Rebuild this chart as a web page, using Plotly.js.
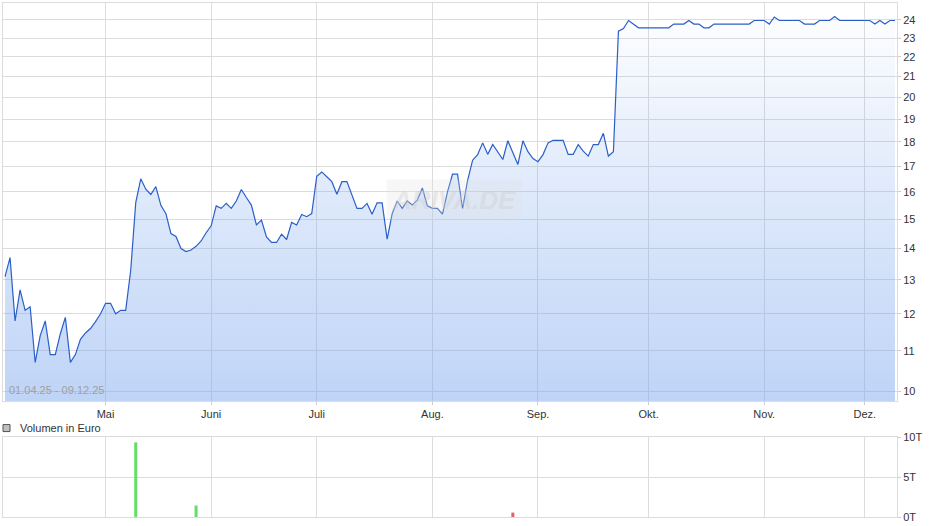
<!DOCTYPE html>
<html>
<head>
<meta charset="utf-8">
<script src="https://cdn.plot.ly/plotly-3.0.1.min.js"></script>
<style>
  html, body { margin: 0; padding: 0; background: #fff; }
  #chart { width: 940px; height: 526px; }
</style>
</head>
<body>
<div id="chart"></div>
<script>
// ---- Data ----
const startDate = '2025-04-01';
const endDate = '2025-12-09';
const holidays = ['2025-04-18', '2025-04-21', '2025-05-01'];
const monthLabels = ['Mai', 'Juni', 'Juli', 'Aug.', 'Sep.', 'Okt.', 'Nov.', 'Dez.'];
const rangeLabel = '01.04.25 - 09.12.25';

const prices = [
  13.1, 13.7, 11.8, 12.7, 12.1, 12.2, 10.7, 11.4, 11.8, 10.9,
  10.9, 11.45, 11.9, 10.7, 10.9, 11.3, 11.47, 11.59, 11.78, 12.0,
  12.3, 12.3, 12.0, 12.1, 12.1, 13.3, 15.6, 16.5, 16.1, 15.9,
  16.2, 15.5, 15.2, 14.5, 14.4, 14.0, 13.9, 13.95, 14.07, 14.25,
  14.53, 14.77, 15.48, 15.39, 15.57, 15.39, 15.66, 16.09, 15.79, 15.51,
  14.8, 14.97, 14.39, 14.2, 14.2, 14.48, 14.3, 14.89, 14.8, 15.17,
  15.09, 15.2, 16.6, 16.77, 16.58, 16.39, 15.91, 16.39, 16.39, 15.84,
  15.39, 15.39, 15.57, 15.18, 15.59, 15.59, 14.31, 15.2, 15.66, 15.39,
  15.66, 15.51, 15.7, 16.15, 15.48, 15.39, 15.39, 15.18, 16.0, 16.68,
  16.68, 15.39, 16.44, 17.24, 17.47, 17.96, 17.48, 17.89, 17.59, 17.27,
  18.05, 17.59, 17.07, 18.05, 17.59, 17.31, 17.18, 17.47, 17.96, 18.07,
  18.07, 18.07, 17.48, 17.48, 17.89, 17.61, 17.41, 17.89, 17.89, 18.37,
  17.41, 17.59, 23.37, 23.52, 23.97, 23.77, 23.56, 23.56, 23.56, 23.56,
  23.56, 23.56, 23.56, 23.77, 23.77, 23.77, 23.97, 23.77, 23.77, 23.56,
  23.56, 23.77, 23.77, 23.77, 23.77, 23.77, 23.77, 23.77, 23.77, 23.97,
  23.97, 23.97, 23.77, 24.17, 23.97, 23.97, 23.97, 23.97, 23.97, 23.77,
  23.77, 23.77, 23.97, 23.97, 23.97, 24.2, 23.97, 23.97, 23.97, 23.97,
  23.97, 23.97, 23.97, 23.77, 23.97, 23.77, 23.97, 23.97
];

const volDates = ['2025-05-12', '2025-05-28', '2025-08-25'];
const volValues = [9330, 1440, 550];

const priceTicks = [10, 11, 12, 13, 14, 15, 16, 17, 18, 19, 20, 21, 22, 23, 24];
const volTicks = [0, 5000, 10000];
const volTickText = ['0T', '5T', '10T'];

// ---- Trading-day calendar ----
function iso(d) { return d.toISOString().slice(0, 10); }
const dates = [];
for (let d = new Date(startDate + 'T00:00:00Z'); iso(d) <= endDate; d.setUTCDate(d.getUTCDate() + 1)) {
  const wd = d.getUTCDay();
  const s = iso(d);
  if (wd !== 0 && wd !== 6 && holidays.indexOf(s) < 0) dates.push(s);
}
const n = Math.min(dates.length, prices.length);
const xs = dates.slice(0, n);
const ys = prices.slice(0, n);

const monthTickVals = [];
for (let i = 1; i < xs.length; i++) {
  if (xs[i].slice(5, 7) !== xs[i - 1].slice(5, 7)) monthTickVals.push(xs[i]);
}

const volColors = volDates.map(ds => {
  const i = xs.indexOf(ds);
  return (i > 0 && ys[i] >= ys[i - 1]) ? '#66dd66' : '#e06666';
});

const font = { family: 'Liberation Sans, Arial, sans-serif', size: 11, color: '#333' };
const gridC = '#dcdcdc';
const yMin = 9.77, yMax = 24.98;

const traces = [
  {
    x: xs, y: ys, type: 'scatter', mode: 'lines',
    line: { color: '#2a5fc8', width: 1.2 },
    fill: 'tozeroy',
    fillgradient: {
      type: 'vertical',
      start: yMin, stop: yMax,
      colorscale: [[0, 'rgba(120,165,238,0.48)'], [0.5, 'rgba(120,165,238,0.25)'], [1, 'rgba(120,165,238,0.0)']]
    },
    xaxis: 'x', yaxis: 'y', hoverinfo: 'x+y'
  },
  {
    x: volDates, y: volValues, type: 'bar',
    marker: { color: volColors, line: { width: 0 } },
    width: 0.6,
    xaxis: 'x2', yaxis: 'y2', hoverinfo: 'x+y'
  }
];

const xRange = [-0.4, xs.length - 1 + 0.4];

const layout = {
  width: 940, height: 526,
  margin: { l: 3, r: 43, t: 3, b: 9 },
  paper_bgcolor: '#fff', plot_bgcolor: '#fff',
  showlegend: false,
  font: font,
  xaxis: {
    type: 'category', categoryorder: 'array', categoryarray: xs,
    range: xRange,
    tickvals: monthTickVals, ticktext: monthLabels,
    showgrid: true, gridcolor: gridC, gridwidth: 1,
    ticks: 'outside', ticklen: 3, tickcolor: '#ccc',
    showline: true, linecolor: gridC, mirror: true,
    tickfont: font, domain: [0, 1], anchor: 'y',
    zeroline: false
  },
  yaxis: {
    type: 'log',
    range: [Math.log10(yMin), Math.log10(yMax)],
    domain: [0.2257, 1],
    side: 'right',
    tickvals: priceTicks, ticktext: priceTicks.map(String),
    showgrid: true, gridcolor: gridC, gridwidth: 1,
    ticks: 'outside', ticklen: 3, tickcolor: '#ccc',
    showline: true, linecolor: gridC, mirror: true,
    tickfont: font, anchor: 'x', zeroline: false
  },
  xaxis2: {
    type: 'category', categoryorder: 'array', categoryarray: xs,
    range: xRange,
    tickvals: monthTickVals, showticklabels: false,
    showgrid: true, gridcolor: gridC, gridwidth: 1,
    ticks: '', showline: true, linecolor: gridC, mirror: true,
    domain: [0, 1], anchor: 'y2', zeroline: false
  },
  yaxis2: {
    range: [0, 10000],
    domain: [0, 0.1556],
    side: 'right',
    tickvals: volTicks, ticktext: volTickText,
    showgrid: true, gridcolor: gridC, gridwidth: 1,
    ticks: 'outside', ticklen: 3, tickcolor: '#ccc',
    showline: true, linecolor: gridC, mirror: true,
    tickfont: font, anchor: 'x2', zeroline: false
  },
  annotations: [
    {
      xref: 'x domain', yref: 'y domain', x: 0.004, y: 0.008,
      xanchor: 'left', yanchor: 'bottom', showarrow: false,
      text: rangeLabel,
      font: { family: 'Liberation Sans, Arial, sans-serif', size: 11, color: '#a0a0a0' }
    },
    {
      xref: 'x domain', yref: 'y domain', x: 0.505, y: 0.505,
      xanchor: 'center', yanchor: 'middle', showarrow: false,
      text: '<b><i>ARIVA.DE</i></b>',
      bgcolor: 'rgba(225,225,225,0.25)', borderpad: 5,
      font: { family: 'Liberation Sans, Arial, sans-serif', size: 26, color: 'rgba(205,205,205,0.4)' }
    },
    {
      xref: 'paper', yref: 'paper', x: 0.0168, y: 0.173,
      xanchor: 'left', yanchor: 'middle', showarrow: false,
      text: 'Volumen in Euro',
      font: font
    }
  ],
  shapes: [
    {
      type: 'rect', xref: 'paper', yref: 'paper',
      xsizemode: 'pixel', ysizemode: 'pixel',
      xanchor: 0, yanchor: 0.173,
      x0: 0, x1: 7, y0: -3.5, y1: 3.5,
      fillcolor: '#c0c0c0', line: { color: '#555', width: 1 }
    }
  ]
};

Plotly.newPlot('chart', traces, layout, { displayModeBar: false, staticPlot: true });
</script>
</body>
</html>
